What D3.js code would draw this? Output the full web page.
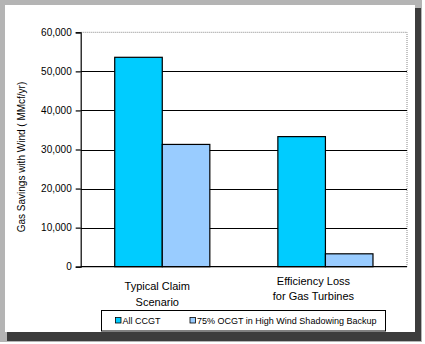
<!DOCTYPE html>
<html><head><meta charset="utf-8">
<script src="https://cdn.jsdelivr.net/npm/d3@7"></script>
<style>
html,body{margin:0;padding:0;background:#fff;}
svg text{font-family:"Liberation Sans",Arial,sans-serif;fill:#000;}
</style></head>
<body><svg id="c" width="425" height="344"></svg>
<script>
const categories = [["Typical Claim","Scenario"],["Efficiency Loss","for Gas Turbines"]];
const categoryKeys = ["Typical Claim Scenario","Efficiency Loss for Gas Turbines"];
const seriesNames = ["All CCGT","75% OCGT in High Wind Shadowing Backup"];
const allCCGT = [53600, 33300];
const ocgt75 = [31300, 3300];
const yTicks = [0,10000,20000,30000,40000,50000,60000];
const yTitle = "Gas Savings with Wind ( MMcf/yr)";
const colors = ["#00CCFF","#99CCFF"];

const svg = d3.select("#c");
// frame
svg.append("rect").attr("x",0).attr("y",0).attr("width",422).attr("height",342).attr("fill","#b4b4b4");
svg.append("rect").attr("x",7).attr("y",8).attr("width",414).attr("height",333).attr("fill","#3c3c3c");
svg.append("rect").attr("x",5).attr("y",5).attr("width",410).attr("height",327).attr("fill","#fff");

const L=80.7, R=407, T=32.3, B=266.7;
const x = d3.scaleBand().domain(categoryKeys).range([L,R]).paddingInner(0.417).paddingOuter(0.2085);
const xs = d3.scaleBand().domain(seriesNames).range([0,x.bandwidth()]);
const y = d3.scaleLinear().domain([0,60000]).range([B,T]);

// plot border (top/right dashed gray)
svg.append("path").attr("d",`M${L},${T}H${R}V${B}`).attr("fill","none").attr("stroke","#888").attr("stroke-width",1).attr("stroke-dasharray","1,1");

// gridlines
svg.append("g").selectAll("line").data(yTicks.filter(d=>d>0 && d<60000)).join("line")
  .attr("x1",L).attr("x2",R).attr("y1",d=>Math.round(y(d))+0.5).attr("y2",d=>Math.round(y(d))+0.5)
  .attr("stroke","#000").attr("stroke-width",1.2);

// bars
const data = categoryKeys.map((c,i)=>({cat:c, vals:[allCCGT[i], ocgt75[i]]}));
const g = svg.append("g");
data.forEach(d=>{
  d.vals.forEach((v,j)=>{
    g.append("rect")
      .attr("x", x(d.cat)+xs(seriesNames[j]))
      .attr("y", y(v))
      .attr("width", xs.bandwidth())
      .attr("height", B - y(v))
      .attr("fill", colors[j]).attr("stroke","#000").attr("stroke-width",1.2);
  });
});

// y axis
const yAxis = d3.axisLeft(y).tickValues(yTicks).tickFormat(d3.format(",")).tickSize(5).tickPadding(4);
const ya = svg.append("g").attr("transform",`translate(${L},0)`).call(yAxis);
ya.select(".domain").attr("stroke","#000").attr("stroke-width",1.2);
ya.selectAll(".tick line").attr("stroke","#000").attr("stroke-width",1.2);
ya.selectAll("text").attr("font-size",10).attr("font-family","Liberation Sans, Arial, sans-serif").attr("fill","#000");

// x axis baseline
svg.append("line").attr("x1",L).attr("x2",R).attr("y1",B).attr("y2",B).attr("stroke","#000").attr("stroke-width",1.2);

// category labels
categoryKeys.forEach((c,i)=>{
  const t = svg.append("text").attr("text-anchor","middle").attr("font-size",11)
    .attr("x", x(c)+x.bandwidth()/2 - (i===0?5:12))
    .attr("y", i===0?290:284.5);
  categories[i].forEach((line,k)=>{
    t.append("tspan").attr("x", x(c)+x.bandwidth()/2 - (i===0?5:12)).attr("dy", k===0?0:15.5).text(line);
  });
});

// y title
svg.append("text").attr("transform","translate(25,157) rotate(-90)").attr("text-anchor","middle")
  .attr("font-size",10).text(yTitle);

// legend
svg.append("rect").attr("x",101.5).attr("y",310.5).attr("width",284).attr("height",20.5)
  .attr("fill","#fff").attr("stroke","#000").attr("stroke-width",1);
const lx = [115.5, 190];
seriesNames.forEach((s,j)=>{
  svg.append("rect").attr("x",lx[j]).attr("y",317.5).attr("width",5.5).attr("height",5.5)
    .attr("fill",colors[j]).attr("stroke","#000").attr("stroke-width",0.8);
  svg.append("text").attr("x",lx[j]+7).attr("y",324).attr("font-size",9).text(s);
});
</script></body></html>
